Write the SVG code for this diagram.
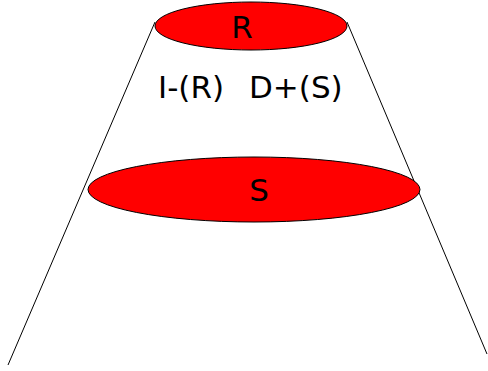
<svg xmlns="http://www.w3.org/2000/svg" width="488" height="371" viewBox="0 0 488 371">
<style>
.n{fill:#ff0000;stroke:#000;stroke-width:1}
.t{font-family:"DejaVu Sans",sans-serif;font-size:31px;fill:#000}
.c{stroke:#000;stroke-width:1;fill:none}
</style>
<rect width="488" height="371" fill="#fff"/>
<g id="connectors">
<line class="c" x1="155" y1="22" x2="8" y2="365"/>
<line class="c" x1="347" y1="22" x2="487" y2="354"/>
</g>
<g id="R">
<ellipse class="n" cx="251" cy="26" rx="96" ry="24"/>
<text class="t" x="242" y="37.5" text-anchor="middle">R</text>
</g>
<g id="label">
<text class="t" y="97.5"><tspan x="158">I-(R)</tspan><tspan x="249">D+(S)</tspan></text>
</g>
<g id="S">
<ellipse class="n" cx="254" cy="189.5" rx="166" ry="32.5"/>
<text class="t" x="259" y="201" text-anchor="middle">S</text>
</g>
</svg>
